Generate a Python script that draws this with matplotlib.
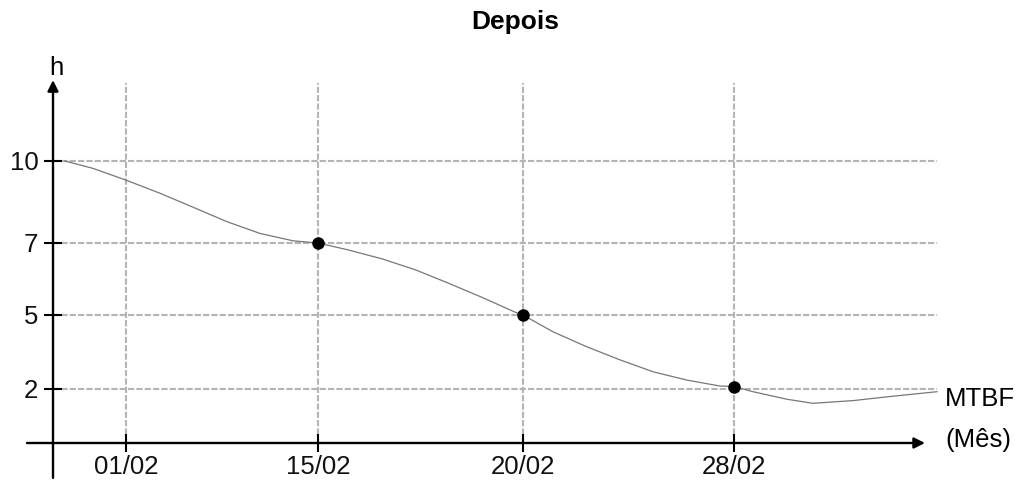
import numpy as np
import matplotlib
matplotlib.use("Agg")
import matplotlib.pyplot as plt

plt.rcParams["font.family"] = ["Liberation Sans", "DejaVu Sans"]

# Dates on the horizontal axis and hour marks on the vertical axis
dates = ["01/02", "15/02", "20/02", "28/02"]
h_ticks = [2, 5, 7, 10]

# MTBF curve: position along the date axis (0 = 01/02 ... 3 = 28/02) and hours
curve_x = [-0.318, -0.172, 0.0, 0.177, 0.349, 0.526, 0.698, 0.870, 1.0,
           1.146, 1.312, 1.473, 1.634, 1.800, 1.961, 2.0,
           2.142, 2.303, 2.460, 2.616, 2.777, 2.934, 3.0,
           3.090, 3.251, 3.374, 3.564, 3.725, 3.962]
curve_h = [10.0, 9.73, 9.30, 8.82, 8.31, 7.78, 7.35, 7.08, 7.0,
           6.81, 6.56, 6.26, 5.89, 5.49, 5.08, 5.0,
           4.32, 3.71, 3.18, 2.70, 2.36, 2.12, 2.1,
           1.90, 1.62, 1.47, 1.57, 1.71, 1.90]

# Measured points
point_x = [1, 2, 3]
point_h = [7, 5, 2.1]

# The grid is drawn with uneven spacing on both axes
X_KNOTS = [-1, 0, 1, 2, 3, 4]
X_POS = [-66, 126, 318, 523, 734, 945]
Y_KNOTS = [0, 2, 5, 7, 10, 13]
Y_POS = [0, 54, 128, 200, 282, 364]


def x_fwd(v):
    return np.interp(v, X_KNOTS, X_POS)


def x_inv(p):
    return np.interp(p, X_POS, X_KNOTS)


def y_fwd(v):
    return np.interp(v, Y_KNOTS, Y_POS)


def y_inv(p):
    return np.interp(p, Y_POS, Y_KNOTS)


W, H = 1027, 490
fig = plt.figure(figsize=(W / 100, H / 100), dpi=100)
ax = fig.add_axes([53 / W, 47 / H, 884 / W, 360 / H])

ax.set_xscale("function", functions=(x_fwd, x_inv))
ax.set_yscale("function", functions=(y_fwd, y_inv))
ax.set_xlim(x_inv(53), x_inv(937))
ax.set_ylim(0, y_inv(360))
ax.minorticks_off()

for s in ax.spines.values():
    s.set_visible(False)

ax.set_xticks(range(len(dates)), dates)
ax.set_yticks(h_ticks, [str(v) for v in h_ticks])
ax.tick_params(direction="inout", length=13, width=1.5, labelsize=18.5,
               color="black", labelcolor="#111111")
ax.tick_params(axis="x", pad=2)
ax.tick_params(axis="y", pad=4)

ax.grid(True, color="#b4b4b4", linestyle=(0, (3, 1)), linewidth=1.5, zorder=0)
ax.set_axisbelow(True)

# Curve and measured points
ax.plot(curve_x, curve_h, color="#777777", linewidth=0.9, zorder=3,
        clip_on=False, solid_joinstyle="round")
ax.plot(point_x, point_h, "o", color="black", markersize=8, zorder=4)

# Axis arrows
arrow = dict(arrowstyle="-|>", color="black", lw=1.7, mutation_scale=16,
             shrinkA=0, shrinkB=0)
ax.annotate("", xy=(0.9864, 0), xytext=(-0.0294, 0),
            xycoords="axes fraction", textcoords="axes fraction",
            arrowprops=arrow, annotation_clip=False)
ax.annotate("", xy=(0, 1.008), xytext=(0, -0.097),
            xycoords="axes fraction", textcoords="axes fraction",
            arrowprops=arrow, annotation_clip=False)

# Labels
fig.text(515 / W, 1 - 22 / H, "Depois", fontsize=19, fontweight="bold",
         ha="center", va="center")
fig.text(56 / W, 1 - 68 / H, "h", fontsize=18.5, ha="center", va="center")
fig.text(945 / W, 1 - 399 / H, "MTBF", fontsize=18.5, ha="left", va="center")
fig.text(945 / W, 1 - 440 / H, "(Mês)", fontsize=18.5, ha="left", va="center")

fig.savefig("out.png", dpi=100, facecolor="white")
